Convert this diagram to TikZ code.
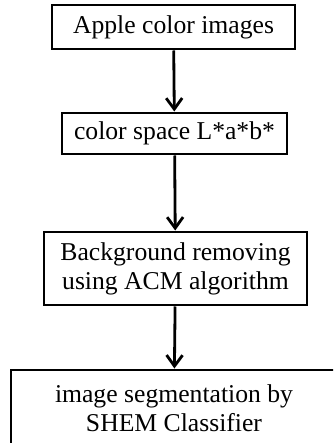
\documentclass[tikz,border=0pt]{standalone}
\usepackage{fontspec}
\setmainfont{Liberation Serif}
\usepackage{tikz}
\usetikzlibrary{positioning, arrows.meta}

\begin{document}
\begin{tikzpicture}[font=\fontsize{14.6}{16.6}\selectfont, >={Straight Barb[length=2.2mm, width=3.2mm, line width=1.6pt]},
    stage/.style={draw, line width=1.7pt, align=center, inner sep=0pt}]

  \clip (0,0) rectangle (6.66,-8.86);

  \node[stage, minimum width=4.86cm, minimum height=0.88cm] (apple) at (3.47,-0.54) {Apple color images};
  \node[stage, minimum width=4.50cm, minimum height=0.82cm] (lab) at (3.49,-2.67) {color space L*a*b*};
  \node[stage, minimum width=5.26cm, minimum height=1.46cm] (acm) at (3.51,-5.37) {Background removing\\using ACM algorithm};
  \node[stage, minimum width=6.52cm, minimum height=1.52cm] (shem) at (3.48,-8.16) {image segmentation by\\SHEM Classifier};

  % flow
  \draw[->, line width=1.6pt] (apple) -- (lab);
  \draw[->, line width=1.6pt] (lab) -- (acm);
  \draw[->, line width=1.6pt] (acm) -- (shem);
\end{tikzpicture}
\end{document}
